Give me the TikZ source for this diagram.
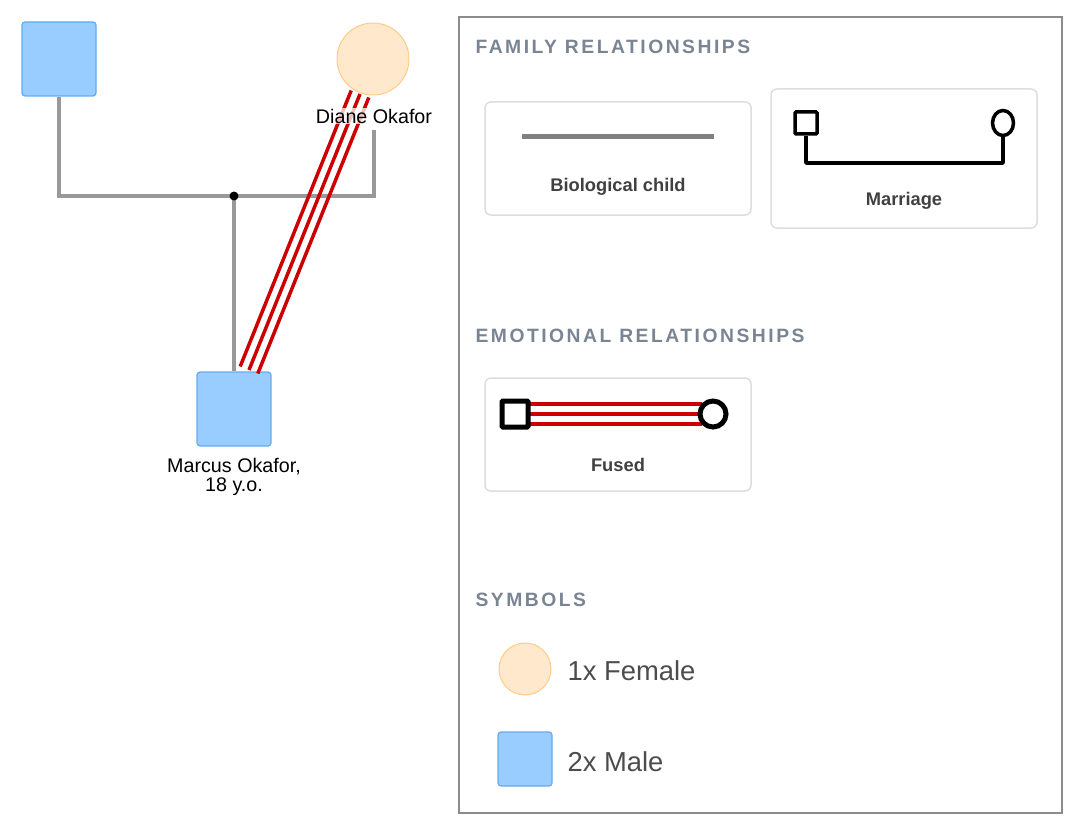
\documentclass[tikz,border=0pt]{standalone}
\usepackage{fontspec}
\setmainfont{Liberation Sans}
\newfontfamily\headfont[LetterSpace=13]{Liberation Sans}
\usetikzlibrary{positioning,calc,shapes.geometric}
\definecolor{MaleBlue}{HTML}{99CCFF}
\definecolor{MaleEdge}{HTML}{66AAEE}
\definecolor{FemPeach}{HTML}{FFE8CC}
\definecolor{FemEdge}{HTML}{FFCC88}
\definecolor{LinkGray}{HTML}{999999}
\definecolor{FuseRed}{HTML}{CC0000}
\definecolor{HeadGray}{HTML}{7A8594}
\definecolor{CardEdge}{HTML}{DDDDDD}
\tikzset{
  male/.style={draw=MaleEdge,fill=MaleBlue,line width=1.2pt,rounded corners=3pt,minimum size=74pt,inner sep=0pt},
  female/.style={circle,draw=FemEdge,fill=FemPeach,line width=1pt,minimum size=72pt,inner sep=0pt},
  tie/.style={LinkGray,line width=3.5pt},
  fuse/.style={FuseRed,line width=3.5pt},
  card/.style={draw=CardEdge,line width=1.5pt,rounded corners=6pt},
  cardtext/.style={text=black!75,font=\fontsize{18.3}{21}\selectfont\bfseries},
  head/.style={anchor=west,text=HeadGray,font=\fontsize{19.3}{22}\selectfont\headfont\bfseries},
  pname/.style={font=\fontsize{19.7}{22}\selectfont,align=center}
}
\begin{document}
\begin{tikzpicture}[x=1pt,y=-1pt]
\useasboundingbox (0,0) rectangle (1081,832);

% family
\node[male] (father) at (59,59) {};
\node[female] (diane) at (373,59) {};
\node[male] (marcus) at (234,409) {};
\node[pname] (mlabel) at (234,477) {Marcus Okafor,\\[-3pt]18 y.o.};
\coordinate (mid) at (234,196);
\draw[tie] (father.south) |- (mid) -| (374,130);
\draw[tie] (mid) -- (marcus.north);
\fill (mid) circle (4.5);

% fused ties
\coordinate (dtop) at (360,94);
\coordinate (mbot) at (249,370);
\foreach \s in {-1,0,1}
  \draw[fuse] ($(dtop)+(\s*8.8,\s*3.5)$) -- ($(mbot)+(\s*8.8,\s*3.5)$);
\node[pname,fill=white,fill opacity=0.75,text opacity=1,inner sep=1pt] (dlabel) at (374,116) {Diane Okafor};

% legend
\draw[gray!90,line width=2pt] (459,17) rectangle (1062,813);
\node[head] (famhead) at (472,47) {FAMILY RELATIONSHIPS};
\draw[card] (485,102) rectangle (751,215);
\draw[gray,line width=5pt] (522,137) -- (714,137);
\node[cardtext] (biol) at (618,187) {Biological child};
\draw[card] (771,89) rectangle (1037,228);
\node[draw,line width=3.5pt,rounded corners=1pt,minimum size=22pt,inner sep=0pt] (msq) at (806,123) {};
\node[draw,ellipse,line width=3.5pt,minimum width=21pt,minimum height=25pt,inner sep=0pt] (mci) at (1003,123) {};
\draw[line width=3.5pt,line join=round] (msq.south) |- (1003,163) -- (mci.south);
\node[cardtext] (marr) at (904,201) {Marriage};

\node[head] (emohead) at (472,336) {EMOTIONAL RELATIONSHIPS};
\draw[card] (485,378) rectangle (751,491);
\foreach \y in {404,414,424}
  \draw[fuse] (528,\y) -- (702,\y);
\node[draw,fill=white,line width=5pt,rounded corners=1pt,minimum size=26pt,inner sep=0pt] (fsq) at (515,414) {};
\node[draw,circle,fill=white,line width=5pt,minimum size=26pt,inner sep=0pt] (fci) at (713,414) {};
\node[cardtext] (fused) at (618,465) {Fused};

\node[head] (symhead) at (472,600) {SYMBOLS};
\node[female,minimum size=52pt] (fsym) at (525,669) {};
\node[anchor=west,text=black!70,font=\fontsize{27.4}{32}\selectfont] (ftext) at (564,671) {1x Female};
\node[male,minimum size=54pt] (msym) at (525,759) {};
\node[anchor=west,text=black!70,font=\fontsize{27.4}{32}\selectfont] (mtext) at (564,762) {2x Male};
\end{tikzpicture}
\end{document}
